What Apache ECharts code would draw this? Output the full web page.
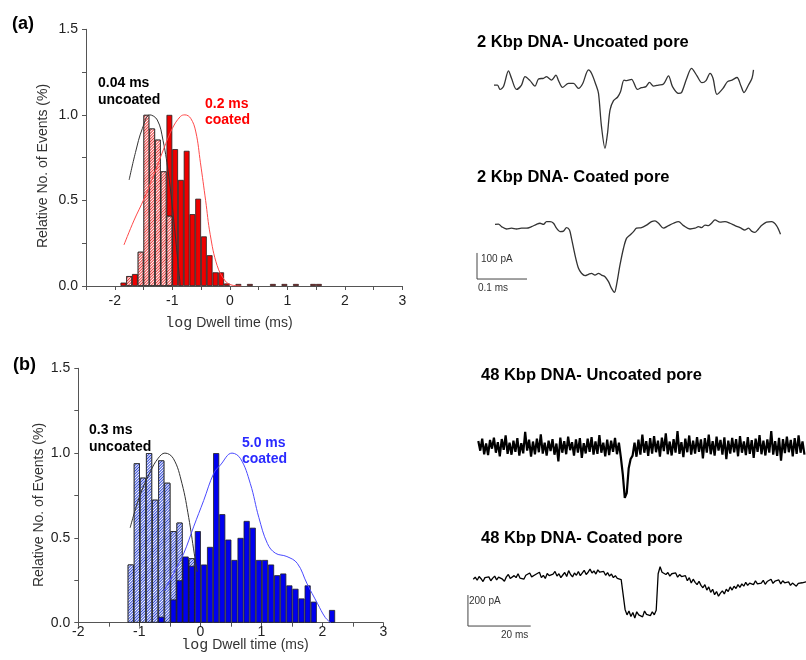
<!DOCTYPE html>
<html>
<head>
<meta charset="utf-8">
<script src="https://cdn.jsdelivr.net/npm/echarts@6/dist/echarts.min.js"></script>
<style>
html, body { margin: 0; padding: 0; background: #fff; }
#main { width: 806px; height: 660px; }
</style>
</head>
<body>
<div id="main"></div>
<script>
// ---- histograms: bin centres (log10 dwell time, ms) and relative counts ----
var aCoatedX   = [-1.85, -1.65, -1.05, -0.95, -0.85, -0.75, -0.65, -0.55, -0.45, -0.35, -0.25, -0.15, -0.05, 0.15, 0.35, 0.75, 0.95, 1.15, 1.45, 1.55];
var aCoatedY   = [0.02, 0.07, 1.0, 0.80, 0.62, 0.79, 0.42, 0.51, 0.29, 0.18, 0.08, 0.08, 0.015, 0.012, 0.012, 0.012, 0.012, 0.012, 0.012, 0.012];
var aUncoatedX = [-1.75, -1.55, -1.45, -1.35, -1.25, -1.15, -1.05];
var aUncoatedY = [0.058, 0.20, 1.0, 0.92, 0.855, 0.67, 0.41];

var bUncoatedX = [-1.14, -1.04, -0.94, -0.84, -0.74, -0.64, -0.54, -0.44, -0.34, -0.24, -0.14];
var bUncoatedY = [0.343, 0.94, 0.855, 1.0, 0.725, 0.957, 0.825, 0.54, 0.59, 0.37, 0.38];
var bCoatedX   = [-0.64, -0.44, -0.34, -0.24, -0.14, -0.04, 0.06, 0.16, 0.26, 0.36, 0.46, 0.56, 0.66, 0.76, 0.86, 0.96, 1.06, 1.16, 1.26, 1.36, 1.46, 1.56, 1.66, 1.76, 1.86, 2.16];
var bCoatedY   = [0.035, 0.137, 0.25, 0.39, 0.335, 0.54, 0.343, 0.447, 1.0, 0.64, 0.49, 0.37, 0.50, 0.60, 0.56, 0.37, 0.37, 0.343, 0.28, 0.29, 0.22, 0.20, 0.143, 0.22, 0.124, 0.075];

// ---- fitted curves ----
var aFitUncX = [-1.75, -1.64, -1.52, -1.39, -1.26, -1.16, -1.06, -0.97, -0.91, -0.86];
var aFitUncY = [0.62, 0.78, 0.92, 1.0, 0.97, 0.85, 0.64, 0.37, 0.17, 0.0];
var aFitCoX  = [-1.84, -1.67, -1.49, -1.32, -1.15, -1.0, -0.86, -0.78, -0.68, -0.59, -0.51, -0.42, -0.34, -0.22, -0.08, 0.04, 0.2];
var aFitCoY  = [0.24, 0.38, 0.51, 0.65, 0.80, 0.92, 0.99, 1.0, 0.98, 0.90, 0.72, 0.50, 0.30, 0.12, 0.03, 0.005, 0.0];
var bFitUncX = [-1.15, -0.99, -0.82, -0.69, -0.58, -0.44, -0.30, -0.19, -0.10, -0.05];
var bFitUncY = [0.56, 0.75, 0.89, 0.97, 1.0, 0.967, 0.82, 0.62, 0.41, 0.30];
var bFitCoX  = [-0.59, -0.44, -0.27, -0.11, 0.055, 0.22, 0.33, 0.52, 0.66, 0.82, 0.96, 1.10, 1.23, 1.42, 1.59, 1.75, 1.92, 2.05, 2.14];
var bFitCoY  = [0.19, 0.29, 0.41, 0.565, 0.72, 0.88, 0.93, 1.0, 0.967, 0.82, 0.62, 0.467, 0.41, 0.39, 0.35, 0.23, 0.114, 0.03, 0.0];

// ---- current traces ----
// 2 Kbp: time (us) / current (pA)
var a1T = [0, 7, 12, 19, 29, 35, 45, 55, 62, 72, 82, 89, 99, 105, 115, 124, 129, 137, 149, 159, 169, 177, 189, 195, 204, 209, 215, 222, 227, 232, 239, 247, 253, 260, 265, 275, 287, 295, 304, 311, 319, 329, 339, 349, 357, 369, 375, 385, 395, 406, 416, 424, 432, 438, 446, 458, 467, 476, 486, 494, 500, 509, 516, 519];
var a1I = [0, 0, -17, -6, 54, 26, -17, 0, 32, 17, -4, 23, 26, 32, 19, 38, 17, -9, 6, 6, -13, 4, 58, 45, 0, -32, -160, -243, -186, -96, -60, -47, -26, 19, 17, 22, -17, -10, -6, 10, -4, 0, 4, 35, -6, -32, -29, 23, 64, 35, 9, 17, 45, 26, -36, -13, 13, 19, 29, -4, -29, 0, 26, 58];
var a2T = [0, 7, 13, 23, 33, 43, 53, 63, 73, 83, 90, 97, 103, 110, 117, 123, 130, 137, 143, 149, 153, 160, 167, 173, 180, 187, 193, 200, 207, 213, 220, 227, 233, 239, 243, 250, 257, 263, 270, 277, 283, 293, 303, 313, 320, 327, 337, 347, 357, 367, 377, 390, 400, 407, 413, 420, 427, 433, 440, 450, 460, 470, 480, 490, 500, 507, 513, 520, 527, 533, 543, 553, 563, 571];
var a2I = [9, 10, 0, -9, -6, -9, -6, -6, 0, 9, 13, 9, 19, 19, 13, -6, -19, -17, -4, -13, -45, -109, -160, -179, -188, -183, -179, -186, -179, -186, -192, -211, -237, -252, -224, -147, -83, -45, -32, -19, -6, -4, 6, 19, 22, 13, -6, 4, 13, 19, 4, -9, -6, 0, -4, 6, 4, 13, 26, 17, 19, 13, 4, -4, -13, -6, -17, -22, -9, 4, 17, 19, 4, -29];
// 48 Kbp: current (pA), one sample every dtB ms
var dtB = 0.62;
var b1I = [36, -26, 52, -49, 20, -55, 43, -13,
  58, -39, 29, -62, 49, -20, 72, -47, 26, -52,
  39, -33, 55, -58, 23, -43, 95, -26, 45, -65,
  33, -49, 52, -36, 80, -45, 26, -57, 39, -29,
  49, -52, 20, -95, 58, -39, 36, -49, 65, -23,
  29, -58, 47, -39, 55, -72, 23, -44, 52, -34,
  62, -52, 33, -47, 75, -39, 26, -62, 45, -55,
  39, -33, 57, -49, 26, -70, -180, -330, -300, -140,
  -80, -58, 26, -65, 45, -52, 78, -39, 36, -60,
  55, -45, 68, -36, 39, -65, 58, -29, 85, -49,
  33, -57, 49, -39, 100, -47, 29, -68, 52, -36,
  72, -52, 39, -45, 62, -33, 47, -75, 55, -39,
  78, -49, 36, -58, 65, -26, 44, -52, 60, -80,
  39, -45, 57, -36, 49, -62, 68, -39, 34, -55,
  62, -47, 42, -72, 52, -33, 75, -49, 39, -57,
  47, -39, 100, -52, 36, -60, 57, -90, 49, -42,
  65, -36, 44, -62, 55, -47, 72, -39, 34, -52];
var b2I = [5, 18, -2, 22, 8, -10, 15, 3, 20, -5,
  12, 25, 0, 18, 30, 5, -8, 20, 35, 10,
  2, 28, 15, 40, 12, 22, 5, 30, 18, 45,
  20, 8, 35, 25, 50, 15, 30, 10, 42, 28,
  18, 38, 55, 25, 40, 15, 32, 48, 22, 60,
  35, 20, 45, 30, 55, 28, 40, 62, 35, 50,
  70, 45, 58, 38, 65, 50, 42, 55, 30, 48,
  25, 38, 15, 28, 10, 20, 2, 8, -190, -225,
  -200, -235, -210, -245, -205, -225, -215, -238, -200, -222,
  -210, -230, -205, -225, -195,
  40, 85, 50,
  60, 35, 48, 25, 40, 30, 45, 18, 35, 22,
  10, 28, -5, 15, -20, 5, -15, -30, -8, -35,
  -50, -30, -65, -45, -80, -60, -95, -75, -105, -85,
  -70, -90, -60, -75, -45, -65, -40, -55, -30, -48,
  -25, -40, -15, -35, -20, -10, -30, -5, -25, -15,
  -20, -2, -28, -10, -18, 5, -22, -8, -15, 0,
  -25, -5, -18, -30, -12, -35, -20, -28, -40, -22, -30, -18, -26, -12, -22];

// scale bars
var scaleA = { us: 100, pA: 100 };
var scaleB = { ms: 20, pA: 200 };

function pairs(xs, ys) { return xs.map(function (x, i) { return [x, ys[i]]; }); }
function sampled(ys, dt) { return ys.map(function (y, i) { return [+(i * dt).toFixed(3), y]; }); }

var FONT = 'Liberation Sans, Arial, sans-serif';

function hatch(c) {
  return { symbol: 'rect', symbolSize: 1, color: c, backgroundColor: '#fff',
           dashArrayX: [1, 0], dashArrayY: [1, 1], rotation: -Math.PI / 4 };
}

function histX(gi, min, margin) {
  return {
    type: 'value', gridIndex: gi, min: min, max: 3, interval: 0.5,
    axisLine: { onZero: false, lineStyle: { color: '#555', width: 1 } },
    axisTick: { show: true, length: 4, lineStyle: { color: '#555' } },
    axisLabel: { color: '#222', fontSize: 14, fontFamily: FONT, margin: margin,
      formatter: function (v) { return Math.abs(v % 1) < 1e-9 ? String(v) : ''; } },
    splitLine: { show: false }
  };
}
function histY(gi) {
  return {
    type: 'value', gridIndex: gi, min: 0, max: 1.5, interval: 0.25,
    axisLine: { show: true, onZero: false, lineStyle: { color: '#555', width: 1 } },
    axisTick: { show: true, length: 4, lineStyle: { color: '#555' } },
    axisLabel: { color: '#222', fontSize: 14, fontFamily: FONT, margin: 8,
      formatter: function (v) { return Math.abs((v * 2) % 1) < 1e-9 ? v.toFixed(1) : ''; } },
    splitLine: { show: false }
  };
}
function hidden(gi, min, max) {
  return { type: 'value', gridIndex: gi, min: min, max: max, show: false, splitLine: { show: false } };
}

function bars(xi, xs, ys, color, decal, w) {
  return {
    type: 'bar', xAxisIndex: xi, yAxisIndex: xi, barWidth: w, barGap: '-100%',
    data: pairs(xs, ys),
    itemStyle: { color: color, borderColor: '#222', borderWidth: 0.8, decal: decal }
  };
}
function fit(xi, xs, ys, color) {
  return {
    type: 'line', xAxisIndex: xi, yAxisIndex: xi, data: pairs(xs, ys), smooth: 0.4,
    showSymbol: false, lineStyle: { color: color, width: 1 }, z: 5
  };
}
function trace(xi, data, color, width, smooth) {
  return {
    type: 'line', xAxisIndex: xi, yAxisIndex: xi, data: data, smooth: smooth,
    showSymbol: false, lineStyle: { color: color, width: width }
  };
}
function txt(x, y, s, opt) {
  var st = Object.assign({ text: s, fontFamily: FONT, fontSize: 14, fill: '#000',
    textAlign: 'left', textVerticalAlign: 'middle' }, opt || {});
  return { type: 'text', x: x, y: y, style: st, rotation: (opt && opt.rot) || 0 };
}

var option = {
  animation: false,
  backgroundColor: '#fff',
  grid: [
    { left: 86, top: 29.3, width: 316.3, height: 256.7 },
    { left: 78.3, top: 368.3, width: 305, height: 254.4 },
    { left: 494, top: 59, width: 259.5, height: 91.1 },
    { left: 475, top: 200.6, width: 305.5, height: 99 },
    { left: 478.3, top: 423.4, width: 327.6, height: 77.5 },
    { left: 467, top: 556.7, width: 340.2, height: 69.8 }
  ],
  xAxis: [histX(0, -2.5, 8), histX(1, -2, 2), hidden(2, 0, 519), hidden(3, -40, 571), hidden(4, 0, 104), hidden(5, -2, 106)],
  yAxis: [histY(0), histY(1), hidden(2, -250, 100), hidden(3, -280, 100), hidden(4, -350, 150), hidden(5, -300, 150)],
  series: [
    bars(0, aCoatedX, aCoatedY, '#ee0000', null, 5.8),
    bars(0, aUncoatedX, aUncoatedY, '#fff', hatch('#ee3a3a'), 5.8),
    fit(0, aFitUncX, aFitUncY, '#333'),
    fit(0, aFitCoX, aFitCoY, '#ff4a4a'),

    bars(1, bUncoatedX, bUncoatedY, '#fff', hatch('#3048d8'), 6.1),
    bars(1, bCoatedX, bCoatedY, '#0000ee', null, 6.1),
    fit(1, bFitUncX, bFitUncY, '#333'),
    fit(1, bFitCoX, bFitCoY, '#4a4aff'),

    trace(2, pairs(a1T, a1I), '#333', 1.3, 0.3),
    trace(3, pairs(a2T, a2I), '#333', 1.3, 0.3),
    trace(3, [[-36, -101], [-36, -101 - scaleA.pA], [-36 + scaleA.us, -101 - scaleA.pA]], '#444', 1, false),
    trace(4, sampled(b1I, dtB), '#000', 2.2, false),
    trace(5, sampled(b2I, dtB), '#000', 1.3, false),
    trace(5, [[-1.7, -97], [-1.7, -97 - scaleB.pA], [-1.7 + scaleB.ms, -97 - scaleB.pA]], '#444', 1, false)
  ],
  graphic: [
    txt(12, 24, '(a)', { fontSize: 18, fontWeight: 'bold' }),
    txt(13, 365, '(b)', { fontSize: 18, fontWeight: 'bold' }),
    txt(43, 166, 'Relative No. of Events (%)', { textAlign: 'center', fill: '#333', rot: Math.PI / 2 }),
    txt(39, 505, 'Relative No. of Events (%)', { textAlign: 'center', fill: '#333', rot: Math.PI / 2 }),
    txt(229, 323, '{m|log} Dwell time (ms)', { textAlign: 'center', fill: '#333',
      rich: { m: { fontFamily: 'Liberation Mono, monospace', fontSize: 15, fill: '#333' } } }),
    txt(245, 645, '{m|log} Dwell time (ms)', { textAlign: 'center', fill: '#333',
      rich: { m: { fontFamily: 'Liberation Mono, monospace', fontSize: 15, fill: '#333' } } }),
    txt(98, 83, '0.04 ms', { fontWeight: 'bold' }),
    txt(98, 100, 'uncoated', { fontWeight: 'bold' }),
    txt(205, 104, '0.2 ms', { fontWeight: 'bold', fill: '#ff0000' }),
    txt(205, 120, 'coated', { fontWeight: 'bold', fill: '#ff0000' }),
    txt(89, 430, '0.3 ms', { fontWeight: 'bold' }),
    txt(89, 447, 'uncoated', { fontWeight: 'bold' }),
    txt(242, 443, '5.0 ms', { fontWeight: 'bold', fill: '#2a2aff' }),
    txt(242, 459, 'coated', { fontWeight: 'bold', fill: '#2a2aff' }),
    txt(477, 42, '2 Kbp DNA- Uncoated pore', { fontWeight: 'bold', fontSize: 16.5 }),
    txt(477, 177, '2 Kbp DNA- Coated pore', { fontWeight: 'bold', fontSize: 16.5 }),
    txt(481, 375, '48 Kbp DNA- Uncoated pore', { fontWeight: 'bold', fontSize: 16.5 }),
    txt(481, 538, '48 Kbp DNA- Coated pore', { fontWeight: 'bold', fontSize: 16.5 }),
    txt(481, 259, '100 pA', { fontSize: 10, fill: '#333' }),
    txt(478, 288, '0.1 ms', { fontSize: 10, fill: '#333' }),
    txt(469, 601, '200 pA', { fontSize: 10, fill: '#333' }),
    txt(501, 635, '20 ms', { fontSize: 10, fill: '#333' })
  ]
};

var chart = echarts.init(document.getElementById('main'));
chart.setOption(option);
</script>
</body>
</html>
